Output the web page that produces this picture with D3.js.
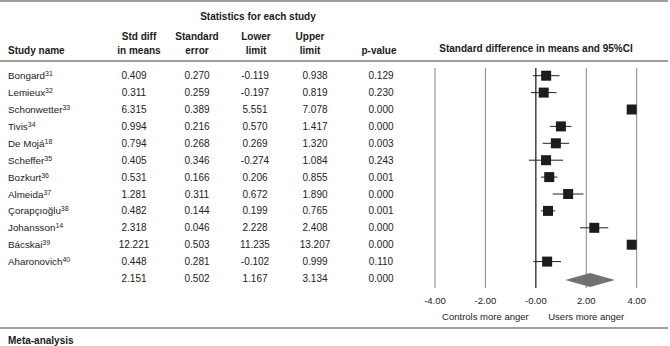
<!DOCTYPE html>
<html><head><meta charset="utf-8">
<script src="https://cdn.jsdelivr.net/npm/d3@7"></script>
<style>
body{margin:0;background:#fff;}
svg{display:block;font-family:"Liberation Sans",Arial,Helvetica,sans-serif;}
</style></head><body>
<svg id="c" width="670" height="346"></svg>
<script>
const studies = ["Bongard","Lemieux","Schonwetter","Tivis","De Mojá","Scheffer","Bozkurt","Almeida","Çorapçıoğlu","Johansson","Bácskai","Aharonovich"];
const refs = ["31","32","33","34","18","35","36","37","38","14","39","40"];
const stdDiff = [0.409,0.311,6.315,0.994,0.794,0.405,0.531,1.281,0.482,2.318,12.221,0.448];
const stdErr = [0.270,0.259,0.389,0.216,0.268,0.346,0.166,0.311,0.144,0.046,0.503,0.281];
const lower = [-0.119,-0.197,5.551,0.570,0.269,-0.274,0.206,0.672,0.199,2.228,11.235,-0.102];
const upper = [0.938,0.819,7.078,1.417,1.320,1.084,0.855,1.890,0.765,2.408,13.207,0.999];
const pValue = [0.129,0.230,0.000,0.000,0.003,0.243,0.001,0.000,0.001,0.000,0.000,0.110];
// CI as drawn in the plot (Johansson's plotted whiskers are wider than its table values)
const plotLower = [-0.119,-0.197,5.551,0.570,0.269,-0.274,0.206,0.672,0.199,1.75,11.235,-0.102];
const plotUpper = [0.938,0.819,7.078,1.417,1.320,1.084,0.855,1.890,0.765,2.87,13.207,0.999];
const summary = {est:2.151, se:0.502, lo:1.167, hi:3.134, p:0.000};
const ticks = [-4,-2,0,2,4];
const tickLabels = ["-4.00","-2.00","-0.00","2.00","4.00"];
const leftLabel = "Controls more anger", rightLabel = "Users more anger";

const svg = d3.select("#c");
const x = d3.scaleLinear().domain([-4,4]).range([435,636.7]);
const rowY = d3.scaleLinear().domain([0,12]).range([75.7,278.5]);
const fmt = d3.formatLocale({decimal:".",thousands:",",grouping:[3],currency:["",""],minus:"-"}).format(".3f");

// rules
[1,61,328].forEach(y=>svg.append("line").attr("x1",0).attr("x2",668).attr("y1",y).attr("y2",y)
  .attr("stroke","#808080").attr("stroke-width",1.5));

// headers
const bold = (t,xx,yy,anchor="middle")=>svg.append("text").attr("x",xx).attr("y",yy)
  .attr("text-anchor",anchor).attr("font-size",10).attr("font-weight","bold").attr("fill","#1a1a1a").text(t);
bold("Statistics for each study",258,20);
bold("Study name",8,54,"start");
const heads = [["Std diff","in means",139],["Standard","error",197],["Lower","limit",256],["Upper","limit",310],[null,"p-value",379]];
heads.forEach(h=>{ if(h[0]) bold(h[0],h[2],40); bold(h[1],h[2],54); });
bold("Standard difference in means and 95%CI",536,52);

// table
const cols = [134,197,255,315,381];
const rows = studies.map((s,i)=>({name:s,ref:refs[i],vals:[stdDiff[i],stdErr[i],lower[i],upper[i],pValue[i]]}));
rows.push({name:"",ref:"",vals:[summary.est,summary.se,summary.lo,summary.hi,summary.p]});
rows.forEach((r,i)=>{
  const y = rowY(i)+3.5;
  if(r.name){
    const t = svg.append("text").attr("x",8).attr("y",y).attr("font-size",9.8).attr("fill","#222");
    t.append("tspan").text(r.name);
    t.append("tspan").attr("dy",-3).attr("font-size",7).text(r.ref);
  }
  r.vals.forEach((v,j)=>svg.append("text").attr("x",cols[j]).attr("y",y).attr("text-anchor","middle")
    .attr("font-size",10).attr("fill","#222").text(fmt(v)));
});

// vertical lines
ticks.forEach(t=>svg.append("line").attr("x1",x(t)).attr("x2",x(t)).attr("y1",68).attr("y2",288)
  .attr("stroke",t===0?"#111":"#888").attr("stroke-width",t===0?1.2:1));
ticks.forEach((t,i)=>svg.append("text").attr("x",x(t)).attr("y",304).attr("text-anchor","middle")
  .attr("font-size",9.5).attr("fill","#222").text(tickLabels[i]));
svg.append("text").attr("x",x(-2)).attr("y",320).attr("text-anchor","middle").attr("font-size",9.5).attr("fill","#222").text(leftLabel);
svg.append("text").attr("x",x(2)).attr("y",320).attr("text-anchor","middle").attr("font-size",9.5).attr("fill","#222").text(rightLabel);

// CI and squares
const sq = 10;
const [dmin,dmax] = x.domain();
studies.forEach((s,i)=>{
  const y = rowY(i);
  const lo = Math.max(dmin,plotLower[i]), hi = Math.min(dmax,plotUpper[i]);
  if(lo<hi) svg.append("line").attr("x1",x(lo)).attr("x2",x(hi)).attr("y1",y).attr("y2",y)
    .attr("stroke","#222").attr("stroke-width",1);
  let cx = x(stdDiff[i]);
  cx = Math.min(x(dmax)-sq/2, Math.max(x(dmin)+sq/2, cx));
  svg.append("rect").attr("x",cx-sq/2).attr("y",y-sq/2).attr("width",sq).attr("height",sq).attr("fill","#1c1c1c");
});
// diamond
const dy = rowY(12)+1.5;
svg.append("path").attr("d",`M${x(summary.lo)},${dy}L${x(summary.est)},${dy-7}L${x(summary.hi)},${dy}L${x(summary.est)},${dy+7}Z`)
  .attr("fill","#717171");

bold("Meta-analysis",8,344,"start");
</script></body></html>
